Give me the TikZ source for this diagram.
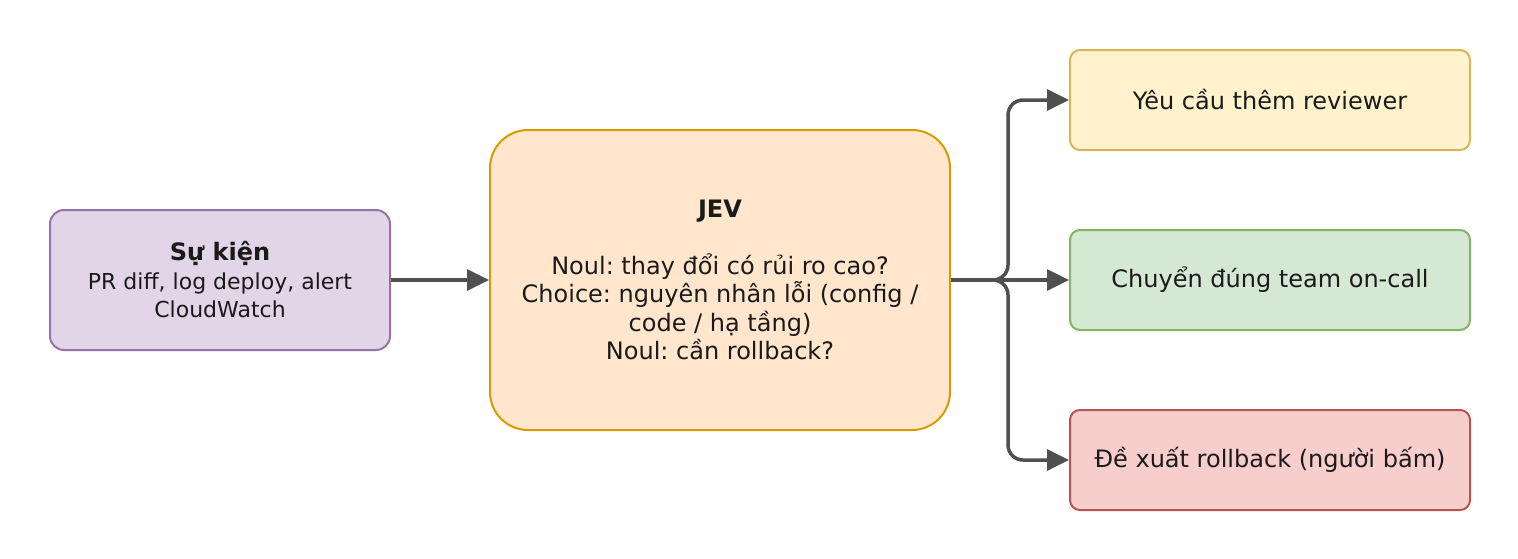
\documentclass[tikz,border=0pt]{standalone}
\usepackage{fontspec}
\setmainfont{DejaVu Sans}
\usetikzlibrary{arrows.meta}
\frenchspacing
\definecolor{txt}{HTML}{1A1A1A}
\definecolor{arr}{HTML}{505050}
\definecolor{pfill}{HTML}{E1D5E7}\definecolor{pline}{HTML}{9673A6}
\definecolor{ofill}{HTML}{FFE6CC}\definecolor{oline}{HTML}{D79B00}
\definecolor{yfill}{HTML}{FFF2CC}\definecolor{yline}{HTML}{D6B656}
\definecolor{gfill}{HTML}{D5E8D4}\definecolor{gline}{HTML}{82B366}
\definecolor{rfill}{HTML}{F8CECC}\definecolor{rline}{HTML}{B85450}
\newcommand{\smallsz}{\fontsize{22}{26}\selectfont}
\tikzset{
  box/.style={rectangle, rounded corners=14pt, line width=2pt, inner sep=0pt, align=center,
    text=txt, font=\frenchspacing\fontsize{24}{28.5}\selectfont},
  conn/.style={draw=arr, line width=3.5pt, rounded corners=15pt,
    -{Triangle[length=22pt,width=21pt]}, fill=none},
}
\begin{document}
\begin{tikzpicture}[x=1pt,y=-1pt]
\useasboundingbox (0,0) rectangle (1518,558);
\node[box, fill=pfill, draw=pline, minimum width=340pt, minimum height=140pt] (ev) at (220,280)
  {\textbf{Sự kiện}\\\smallsz PR diff, log deploy, alert\\\smallsz CloudWatch};
\node[box, fill=ofill, draw=oline, rounded corners=38pt, minimum width=460pt, minimum height=300pt] (jev) at (720,280)
  {\textbf{JEV}\\[28.5pt]Noul: thay đổi có rủi ro cao?\\Choice: nguyên nhân lỗi (config /\\code / hạ tầng)\\Noul: cần rollback?};
\node[box, fill=yfill, draw=yline, rounded corners=10pt, minimum width=400pt, minimum height=100pt] (y) at (1270,100)
  {Yêu cầu thêm reviewer};
\node[box, fill=gfill, draw=gline, rounded corners=10pt, minimum width=400pt, minimum height=100pt] (g) at (1270,280)
  {Chuyển đúng team on-call};
\node[box, fill=rfill, draw=rline, rounded corners=10pt, minimum width=400pt, minimum height=100pt] (r) at (1270,460)
  {Đề xuất rollback (người bấm)};
\coordinate (split) at (1008,280);
\draw[conn] (ev.east) -- (jev.east -| jev.west);
\draw[conn] (jev.east) -- (g.west);
\draw[conn] (jev.east) -- (split) |- (y.west);
\draw[conn] (jev.east) -- (split) |- (r.west);
\end{tikzpicture}
\end{document}
